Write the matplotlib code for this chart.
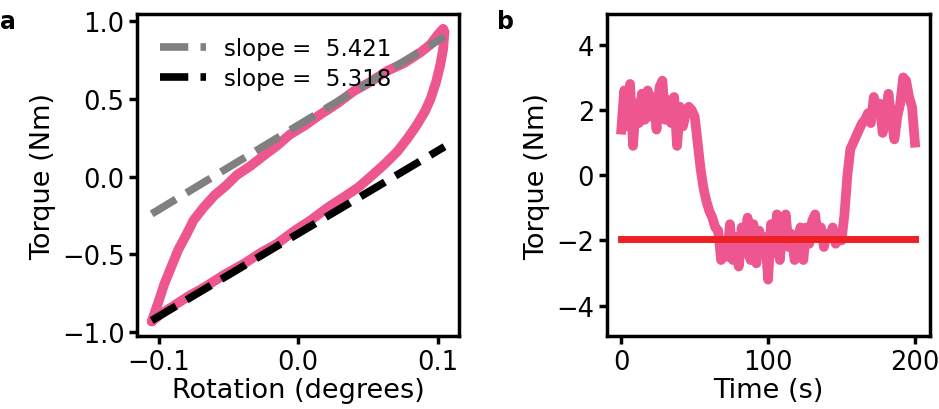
import numpy as np
import matplotlib.pyplot as plt

# panel a: hysteresis loop (rotation in degrees, torque in Nm)
rot_up = [-0.105, -0.100, -0.096, -0.091, -0.086, -0.080, -0.075, -0.068, -0.060, -0.052,
          -0.044, -0.034, -0.024, -0.015, -0.006, 0.005, 0.016, 0.028, 0.040, 0.052,
          0.064, 0.076, 0.088, 0.095, 0.100, 0.104]
tq_up = [-0.93, -0.80, -0.69, -0.58, -0.47, -0.37, -0.28, -0.20, -0.12, -0.06,
         0.01, 0.07, 0.14, 0.20, 0.27, 0.33, 0.40, 0.47, 0.55, 0.61,
         0.68, 0.73, 0.80, 0.85, 0.91, 0.95]
rot_down = [0.105, 0.104, 0.102, 0.099, 0.095, 0.091, 0.085, 0.078, 0.071, 0.062,
            0.052, 0.043, 0.033, 0.021, 0.009, -0.003, -0.015, -0.027, -0.039, -0.053,
            -0.067, -0.079, -0.091, -0.098, -0.105]
tq_down = [0.93, 0.82, 0.72, 0.61, 0.50, 0.42, 0.33, 0.24, 0.16, 0.08,
           0.00, -0.07, -0.13, -0.20, -0.28, -0.35, -0.43, -0.49, -0.56, -0.63,
           -0.71, -0.77, -0.84, -0.88, -0.93]

fit_x = [-0.105, 0.105]
slopes = [5.421, 5.318]
intercepts = [0.33, -0.366]
fit_colors = ["gray", "black"]

# panel b: torque over time
time = np.arange(0, 201, 2)
torque = [1.4, 2.6, 1.5, 2.8, 0.9, 2.2, 1.6, 2.5, 1.7, 2.6,
          1.8, 2.4, 1.4, 2.7, 2.9, 1.7, 2.3, 1.6, 2.4, 0.9,
          2.1, 1.5, 1.9, 2.1, 2.0, 1.8, 1.0, 0.2, -0.4, -0.8,
          -1.1, -1.3, -1.6, -1.7, -2.6, -2.1, -2.5, -1.5, -2.6, -1.9,
          -2.8, -1.6, -2.4, -1.3, -2.6, -1.5, -2.7, -1.7, -2.3, -1.9,
          -3.2, -1.5, -2.4, -1.2, -2.6, -1.6, -1.2, -2.2, -1.8, -2.6,
          -2.3, -1.6, -2.6, -1.6, -2.1, -1.4, -1.2, -1.9, -1.6, -2.2,
          -1.8, -1.9, -1.6, -2.1, -1.9, -2.0, -1.2, 0.0, 0.8, 1.0,
          1.2, 1.4, 1.6, 1.7, 1.9, 1.6, 2.4, 1.9, 2.2, 1.3,
          1.8, 2.5, 1.7, 1.1, 1.8, 2.2, 3.0, 2.9, 2.4, 2.1,
          1.0]
ref_level = -1.96

pink = "#ee5690"

plt.rcParams["axes.linewidth"] = 2.5
plt.rcParams["xtick.major.width"] = 2.5
plt.rcParams["ytick.major.width"] = 2.5
plt.rcParams["xtick.major.size"] = 5.5
plt.rcParams["ytick.major.size"] = 5.5
plt.rcParams["xtick.labelsize"] = 18.5
plt.rcParams["ytick.labelsize"] = 18.5
plt.rcParams["axes.labelsize"] = 19.5

fig = plt.figure(figsize=(9.39, 4.1), dpi=100)
ax1 = fig.add_axes([0.146, 0.178, 0.343, 0.785])
ax2 = fig.add_axes([0.646, 0.178, 0.344, 0.785])

ax1.plot(rot_up + rot_down, tq_up + tq_down, color=pink, lw=7, solid_capstyle="round")
fx = np.array(fit_x)
for s, b, c in zip(slopes, intercepts, fit_colors):
    ax1.plot(fx, s * fx + b, "--", color=c, lw=5.5, label="slope =  %.3f" % s)
ax1.set_xticks([-0.1, 0.0, 0.1])
ax1.set_yticks([-1.0, -0.5, 0.0, 0.5, 1.0])
ax1.set_xlabel("Rotation (degrees)", labelpad=2)
ax1.set_ylabel("Torque (Nm)")
ax1.legend(loc="upper left", frameon=False, fontsize=16.5, handlelength=2.0,
           borderaxespad=0.6, labelspacing=0.3)

ax2.plot(time, torque, color=pink, lw=7)
ax2.plot([time[0], time[-1]], [ref_level, ref_level], color="#ee2024", lw=5)
ax2.set_ylim(-4.93, 4.94)
ax2.set_xticks([0, 100, 200])
ax2.set_yticks([-4, -2, 0, 2, 4])
ax2.set_xlabel("Time (s)", labelpad=2)
ax2.set_ylabel("Torque (Nm)")

fig.text(0.0, 0.975, "a", fontsize=17, fontweight="bold", va="top")
fig.text(0.529, 0.975, "b", fontsize=17, fontweight="bold", va="top")

plt.savefig("out.png", dpi=100)
